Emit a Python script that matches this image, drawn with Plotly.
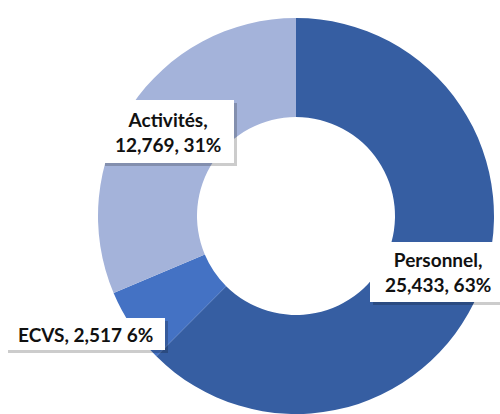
import plotly.graph_objects as go

labels = ["Personnel", "ECVS", "Activités"]
values = [25433, 2517, 12769]
percents = ["63%", "6%", "31%"]
colors = ["#365EA2", "#4472C4", "#A4B3DA"]
label_texts = ["Personnel,<br>25,433, 63%", "ECVS, 2,517 6%", "Activités,<br>12,769, 31%"]

W, H = 500, 414
cx, cy, R = 296, 216, 198

fig = go.Figure()
fig.add_trace(go.Pie(
    labels=labels, values=values, sort=False, direction="clockwise", rotation=0,
    hole=0.5, marker=dict(colors=colors, line=dict(width=0)),
    textinfo="none", hoverinfo="label+value+percent", showlegend=False,
    domain=dict(x=[(cx - R) / W, (cx + R) / W], y=[0, (2 * (H - cy)) / H]),
))

# label boxes (pixel extents: left, top, right, bottom)
boxes = [(370, 242, 506, 302), (5, 318, 165, 350), (102, 100, 234, 163)]
font = dict(family="Lato, Open Sans, sans-serif", size=19, color="#111111")
for t, (l, tp, r, b) in zip(label_texts, boxes):
    fig.add_shape(type="rect", xref="paper", yref="paper",
                  x0=(l + 3) / W, x1=(r + 3) / W, y0=1 - (b + 3) / H, y1=1 - (tp + 3) / H,
                  fillcolor="rgba(0,0,0,0.20)", line=dict(width=0), layer="above")
    fig.add_shape(type="rect", xref="paper", yref="paper",
                  x0=l / W, x1=r / W, y0=1 - b / H, y1=1 - tp / H,
                  fillcolor="white", line=dict(width=0), layer="above")
    fig.add_annotation(x=(l + r) / 2 / W, y=1 - (tp + b) / 2 / H, xref="paper", yref="paper",
                       xanchor="center", yanchor="middle",
                       text="<b>" + t + "</b>", showarrow=False, font=font)

fig.update_layout(width=W, height=H, margin=dict(l=0, r=0, t=0, b=0),
                  paper_bgcolor="white", plot_bgcolor="white")
fig.write_html("out.html")
